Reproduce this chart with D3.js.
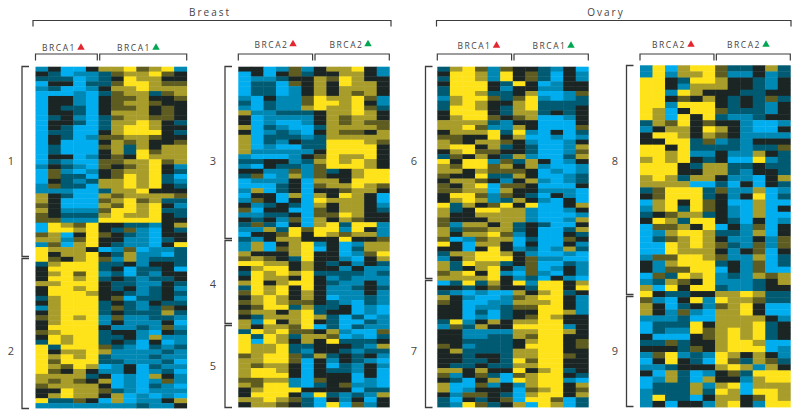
<!DOCTYPE html>
<html>
<head>
<meta charset="utf-8">
<script src="https://cdn.jsdelivr.net/npm/d3@7"></script>
<style>
  html, body { margin: 0; padding: 0; background: #fff; }
  svg { display: block; }
  text { font-family: "Open Sans", "Noto Sans", sans-serif; fill: #444; }
</style>
</head>
<body>
<svg width="800" height="419"></svg>
<script>
// Expression level of each row, one digit per sample: 0 = strong blue, 3 = black, 6 = strong yellow
const breastBrca1 = [
  '130035564561','320112455643','222012365533','033022466544','120013556555','000102455245',
  '033103445334','033103455433','032203445343','033203555343','023102455443','033202556532',
  '032002566533','022003566632','032014455433','030003545334','020004525355','020003526455',
  '033013436555','021004455645','132104345631','041013455632','042203465620','032125565621',
  '142205565632','111002556333','532005455554','530004564522','430005465631','531114665622',
  '432225655632','441116666633','065463322135','066563241032','450364321033','551463311023',
  '140563211036','655530140112','635563251102','643564151222','256662231332','366662302230',
  '356461202133','366562321223','556663221132','366563231231','366653321232','256663402231',
  '356662321322','156662421243','356662322252','456561411221','356661311130','366663112141',
  '456662331032','365662231511','265662320301','626664210212','635565111121','656562111211',
  '646662211120','654650130211','643531130120','555523010531','545435010141','455553010210',
  '336554210111','356553501010','622430501135','111111112113'
];
const breastBrca2 = [
  '330141355631','030342335531','011233546533','022043536553','022013535553','022013535453',
  '103114655641','202114665631','102115655642','511222355653','301111354553','301001354544',
  '502100255554','301210354435','502221255555','502132266654','501002266663','511111366663',
  '100013465563','223312565653','103221466653','331141423566','240151433566','011130553666',
  '000230455654','150230334553','033050536530','143030655530','312320535531','403300435532',
  '112230446533','323140535433','242030562661','115264661631','033463654551','213553336334',
  '150356130155','150456030255','533356330146','454326331035','665535323132','356635331311',
  '265656222212','365536312111','563566321131','265636311232','465635311131','356535301121',
  '456544321021','346625223010','455356233010','325556520201','516356320021','535546020211',
  '265644351004','626525540102','606535362223','655622333215','655621332122','456642523231',
  '556640313210','545530302131','566530322130','566630333030','445510433010','546610234110',
  '356663333022','366631621215','556542031303','355432060413'
];
const ovaryBrca1 = [
  '256414332130','366516342031','266516342031','366632630133','266631331133','266522350014',
  '156642461012','256533562222','266532562223','366632552323','356643450013','555521330003',
  '556411530004','355562610302','443363500101','543554310013','566352320015','356443320014',
  '243532510025','636614253013','546645351001','553544430101','433622530012','355431351012',
  '435604430003','445505331110','366414320310','356512531030','625346360035','523665510013',
  '533555510001','433355510015','415535232003','524455230025','535564130032','401455020043',
  '630553030031','330363120152','255665310010','135666341100','526552340021','523563140131',
  '456361041031','555563120310','026253616635','332343326636','210100535623','531001456631',
  '430011555631','330112446631','330202336651','330102346533','261353556633','142533666613',
  '331111556653','331122546633','332222356634','431222366634','352222556633','332332556643',
  '332232646633','322322556633','553533635623','413420456632','320350656610','500413156635',
  '501333045634','314432056635','203234066402','216423506502'
];
const ovaryBrca2 = [
  '160566422352','161556411312','663266533213','663155533213','661653332233','663435323242',
  '661666323213','650366422213','650636211233','254634331001','135536531003','366535431111',
  '336624121333','663622221224','665611311532','565632300612','666325522322','666335521332',
  '565255311035','555500203032','246662411501','346662313602','056364300500','156264310503',
  '234552310500','365266320301','044536031403','015665221503','024565311314','006565421414',
  '006555313403','144665411502','315666231402','314466031400','042656121545','125436111235',
  '506366211233','632233556522','410361655422','530231456300','531410556300','111200555531',
  '022263555623','021164565623','300034565623','224233566500','333243566601','146121653531',
  '036320642542','112333565153','305201342666','015205331566','022251560555','122252650665',
  '162203553465','130331563166'
];

const panelRows = [breastBrca1, breastBrca2, ovaryBrca1, ovaryBrca2];
const leftCounts = [5, 6, 6, 6];
const panelLeft = [35.5, 238.3, 437.3, 640];
const panelRight = [186.7, 389.3, 588.3, 790.3];
const panelTop = [66.7, 66.7, 66.7, 65.3];
const panelBottom = [408, 407, 407, 407];

const groupNames = ['BRCA1', 'BRCA2', 'BRCA1', 'BRCA2'];
const groupLabelX = [[59, 134], [271.5, 346.5], [474.5, 549.5], [669, 744]];
const groupTriangleX = [[81, 156], [293, 368], [496.5, 571], [691, 766]];
const groupLabelY = [51, 47.5, 49, 48];

const clusterNames = [['1', '2'], ['3', '4', '5'], ['6', '7'], ['8', '9']];
const clusterEdges = [[66.5, 257.5, 408.5], [66.5, 239.5, 324.5, 407.5], [66.5, 279.5, 407.5], [65.5, 295.5, 406.5]];
const clusterLineX = [22, 225, 425.5, 626.5];
const clusterLabelX = [11, 213, 414, 615];
const clusterLabelY = [[161, 351], [161, 284, 366], [161, 351], [161, 351]];

const tissueNames = ['Breast', 'Ovary'];
const tissueEdges = [[33, 391], [436.5, 791]];
const tissueLabelX = [210, 606];

const levels = [0, 1, 2, 3, 4, 5, 6];
const levelColors = ['#00aeef', '#0088b5', '#005a72', '#1b2523', '#5e5c20', '#a89c2a', '#ffe31a'];
const colorScale = d3.scaleOrdinal().domain(levels).range(levelColors);

const svg = d3.select('svg');
const ink = '#3d3d3d';

function bracket(x0, x1, y, drop) {
  svg.append('path')
    .attr('d', `M${x0},${y + drop}V${y}H${x1}V${y + drop}`)
    .attr('fill', 'none')
    .attr('stroke', ink)
    .attr('stroke-width', 1.2)
}

function sideBracket(x, y0, y1) {
  svg.append('path')
    .attr('d', `M${x + 7},${y0}H${x}V${y1}H${x + 7}`)
    .attr('fill', 'none')
    .attr('stroke', ink)
    .attr('stroke-width', 1.3)
}

function groupLabel(name, textX, triX, y, color) {
  svg.append('text')
    .attr('x', textX)
    .attr('y', y)
    .attr('text-anchor', 'middle')
    .attr('font-size', 8.5)
    .attr('letter-spacing', 1.5)
    .text(name)
  svg.append('path')
    .attr('d', d3.symbol(d3.symbolTriangle, 24)())
    .attr('transform', `translate(${triX},${y - 3.5})`)
    .attr('fill', color)
}

// Tissue headers
tissueNames.forEach((name, i) => {
  const [x0, x1] = tissueEdges[i]
  bracket(x0, x1, 20.5, 6)
  svg.append('text')
    .attr('x', tissueLabelX[i])
    .attr('y', 16)
    .attr('text-anchor', 'middle')
    .attr('font-size', 10)
    .attr('letter-spacing', 2)
    .text(name)
})

// Heatmap panels
panelRows.forEach((rows, p) => {
  const xScale = d3.scaleBand()
    .domain(d3.range(12))
    .range([panelLeft[p], panelRight[p]])
  const yScale = d3.scaleBand()
    .domain(d3.range(rows.length))
    .range([panelTop[p], panelBottom[p]])

  const cells = rows.flatMap((row, r) =>
    row.split('').map((v, c) => ({ r, c, v: +v })))

  svg.append('g')
    .selectAll('rect')
    .data(cells)
    .enter()
    .append('rect')
    .attr('x', (d) => xScale(d.c))
    .attr('y', (d) => yScale(d.r))
    .attr('width', xScale.bandwidth() + 0.4)
    .attr('height', yScale.bandwidth() + 0.4)
    .attr('fill', (d) => colorScale(d.v))

  // brackets over the two sample groups
  const split = xScale(leftCounts[p])
  bracket(panelLeft[p], split - 1.2, 54, 6.5)
  bracket(split + 1.2, panelRight[p], 54, 6.5)
  groupLabel(groupNames[p], groupLabelX[p][0], groupTriangleX[p][0], groupLabelY[p], '#e3262e')
  groupLabel(groupNames[p], groupLabelX[p][1], groupTriangleX[p][1], groupLabelY[p], '#00a651')

  // cluster brackets on the left
  const edges = clusterEdges[p]
  const last = clusterNames[p].length - 1
  clusterNames[p].forEach((name, k) => {
    sideBracket(clusterLineX[p], edges[k] + (k ? 1 : 0), edges[k + 1] - (k < last ? 1 : 0))
    svg.append('text')
      .attr('x', clusterLabelX[p])
      .attr('y', clusterLabelY[p][k] + 4)
      .attr('text-anchor', 'middle')
      .attr('font-size', 11)
      .text(name)
  })
})
</script>
</body>
</html>
